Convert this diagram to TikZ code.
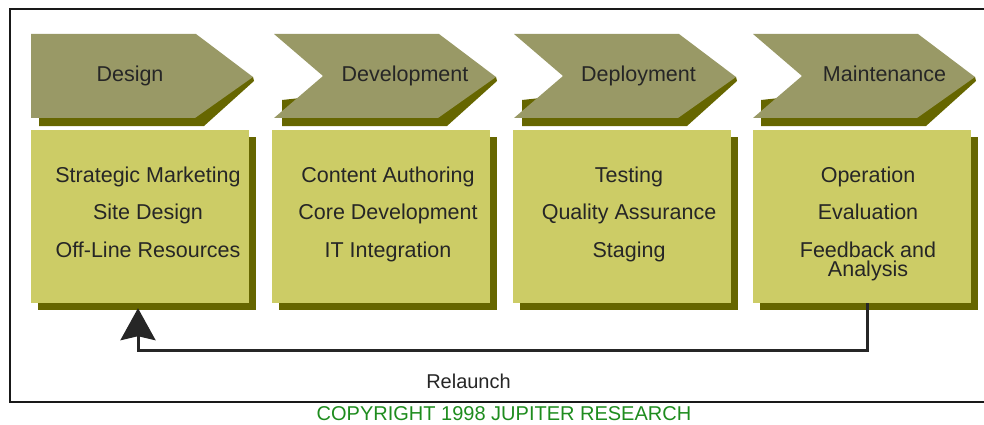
\documentclass[tikz,border=0pt]{standalone}
\usepackage{fontspec}
\setmainfont{Liberation Sans}
\usetikzlibrary{arrows.meta,shadows}

\definecolor{chevfill}{HTML}{999966}
\definecolor{boxfill}{HTML}{CCCC66}
\definecolor{shade}{HTML}{666600}
\definecolor{ink}{HTML}{262626}
\definecolor{copygreen}{HTML}{1E8C1E}

\tikzset{
  stagebox/.style={fill=boxfill, minimum width=218pt, minimum height=173pt,
    inner sep=0pt, drop shadow={shadow xshift=7pt, shadow yshift=-7pt,
    opacity=1, fill=shade}},
  boxtext/.style={font=\fontsize{21.5}{37.5}\selectfont, align=center,
    text=ink, inner sep=0pt, anchor=north},
  chevlabel/.style={font=\fontsize{21.5}{26}\selectfont, text=ink,
    inner sep=0pt, anchor=base},
  chevbody/.style={fill=chevfill},
  chevshadow/.style={fill=shade},
  relaunch/.style={draw=ink, line width=3pt,
    -{Stealth[length=32pt,width=35pt,inset=4pt]}},
  frameline/.style={draw=black!90, line width=2pt}
}

\begin{document}
\begin{tikzpicture}[x=1pt,y=-1pt]
\useasboundingbox (0,0) rectangle (984,425);

% outer frame (open on the right)
\draw[frameline] (984,9) -- (10,9) -- (10,402) -- (984,402);

% phase chevrons: shadow first, then the body; the first has no notch
\foreach \L/\notch in {31/0, 274/49, 514/49, 753/49}{
  \fill[chevshadow] (\L+8,100) -- (\L+8,126) -- (\L+173,126)
        -- (\L+223,81) -- (\L+222,77) -- cycle;
  \fill[chevbody] (\L,34) -- (\L+165,34) -- (\L+222,77) -- (\L+164,118)
        -- (\L,118) -- (\L+\notch,76) -- cycle;
}
\node[chevlabel] (h1) at (130,82)   {Design};
\node[chevlabel] (h2) at (405,82)   {Development};
\node[chevlabel] (h3) at (638.5,82) {Deployment};
\node[chevlabel] (h4) at (884.5,82) {Maintenance};

% activity boxes
\node[stagebox] (b1) at (140,216.5) {};
\node[stagebox] (b2) at (381,216.5) {};
\node[stagebox] (b3) at (622,216.5) {};
\node[stagebox] (b4) at (862,216.5) {};

\node[boxtext] (t1) at ([xshift=8pt,yshift=-36.5pt]b1.north)
  {Strategic Marketing\\Site Design\\Off-Line Resources};
\node[boxtext] (t2) at ([xshift=7pt,yshift=-36.5pt]b2.north)
  {Content Authoring\\Core Development\\IT Integration};
\node[boxtext] (t3) at ([xshift=7pt,yshift=-36.5pt]b3.north)
  {Testing\\Quality Assurance\\Staging};
\node[boxtext] (t4) at ([xshift=6pt,yshift=-36.5pt]b4.north)
  {Operation\\Evaluation\\Feedback and\\[-18pt]Analysis};

% relaunch loop from maintenance back to design
\draw[relaunch] ([xshift=5pt]b4.south) -- ++(0,47)
  -| ([xshift=-2pt,yshift=-5pt]b1.south);
\node[font=\fontsize{20}{24}\selectfont, text=ink, inner sep=0pt,
  anchor=base] (rl) at (468.5,388) {Relaunch};

% credit line
\node[font=\fontsize{20}{24}\selectfont, text=copygreen, inner sep=0pt,
  anchor=base] (cr) at (504,420) {COPYRIGHT 1998 JUPITER RESEARCH};
\end{tikzpicture}
\end{document}
